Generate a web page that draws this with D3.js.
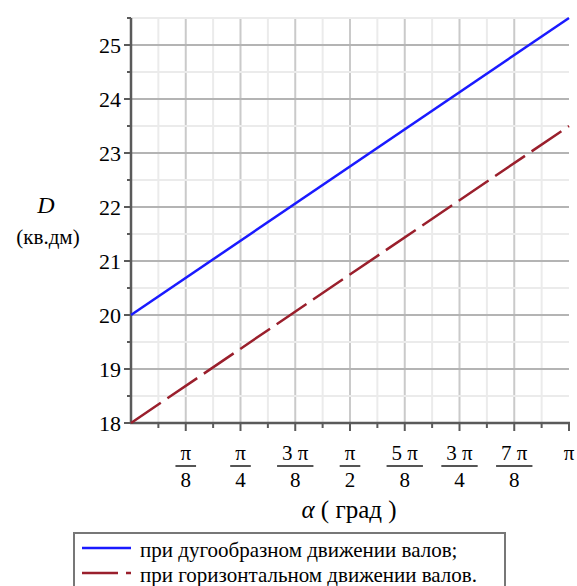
<!DOCTYPE html>
<html>
<head>
<meta charset="utf-8">
<script src="https://cdn.jsdelivr.net/npm/d3@7"></script>
</head>
<body style="margin:0">
<script>
// data
var PI = Math.PI
var arcLine = [[0, 20], [PI, 25.5]]          // при дугообразном движении валов
var horizLine = [[0, 18], [PI, 23.5]]        // при горизонтальном движении валов
var yTicks = [18, 19, 20, 21, 22, 23, 24, 25]
var xTickK = [1, 2, 3, 4, 5, 6, 7, 8]        // multiples of pi/8
var xTickNum = ["π", "π", "3 π", "π", "5 π", "3 π", "7 π", "π"]
var xTickDen = ["8", "4", "8", "2", "8", "4", "8", ""]
var legendLabels = ["при дугообразном движении валов;", "при горизонтальном движении валов."]

var width = 577, height = 586
var padding = { top: 18, left: 131 }
var fontName = "Times New Roman"

var xScale = d3.scaleLinear().domain([0, PI]).range([padding.left, 569])
var yScale = d3.scaleLinear().domain([18, 25.5]).range([423, padding.top])

var svg = d3.select("body").append("svg")
  .attr("width", width)
  .attr("height", height)

function txt(sel, size){
  return sel.append("text")
    .style("font", size + "px '" + fontName + "'")
}

// grid
var grid = svg.append("g")
var minorX = d3.range(1, 16).map(function(i){ return i * PI / 16 })
var minorY = d3.range(18.5, 25.6, 1)
grid.selectAll(".vminor").data(minorX).enter().append("line")
  .attr("x1", d => xScale(d)).attr("x2", d => xScale(d))
  .attr("y1", yScale(25.5)).attr("y2", yScale(18))
  .attr("stroke", d => (Math.round(d / PI * 16) % 2 == 0) ? "#cacaca" : "#ebebeb")
  .attr("stroke-width", 2)
grid.selectAll(".hminor").data(minorY).enter().append("line")
  .attr("x1", xScale(0)).attr("x2", xScale(PI))
  .attr("y1", d => yScale(d)).attr("y2", d => yScale(d))
  .attr("stroke", "#ebebeb").attr("stroke-width", 2)
grid.selectAll(".hmajor").data(yTicks.slice(1)).enter().append("line")
  .attr("x1", xScale(0)).attr("x2", xScale(PI))
  .attr("y1", d => yScale(d)).attr("y2", d => yScale(d))
  .attr("stroke", "#b4b4b4").attr("stroke-width", 2)

// axes
var axisColor = "#5a5a5a"
svg.append("line").attr("x1", xScale(0)).attr("x2", xScale(0))
  .attr("y1", yScale(25.5)).attr("y2", yScale(18) + 1)
  .attr("stroke", axisColor).attr("stroke-width", 2.5)
svg.append("line").attr("x1", xScale(0) - 1).attr("x2", xScale(PI) + 1)
  .attr("y1", yScale(18)).attr("y2", yScale(18))
  .attr("stroke", axisColor).attr("stroke-width", 2.5)

// y ticks
svg.selectAll(".ytick").data(d3.range(18, 25.6, 0.5)).enter().append("line")
  .attr("x1", d => xScale(0) - (d % 1 == 0 ? 7 : 4)).attr("x2", xScale(0))
  .attr("y1", d => yScale(d)).attr("y2", d => yScale(d))
  .attr("stroke", axisColor).attr("stroke-width", 2)
yTicks.forEach(function(v){
  txt(svg, 22).attr("x", 121).attr("y", yScale(v) + 8)
    .attr("text-anchor", "end").text(v)
})

// x ticks
svg.selectAll(".xtick").data(d3.range(1, 17)).enter().append("line")
  .attr("x1", d => xScale(d * PI / 16)).attr("x2", d => xScale(d * PI / 16))
  .attr("y1", yScale(18)).attr("y2", d => yScale(18) + (d % 2 == 0 ? 8 : 5))
  .attr("stroke", axisColor).attr("stroke-width", 2)

xTickK.forEach(function(k, i){
  var x = xScale(k * PI / 8)
  var num = txt(svg, 21).attr("x", x).attr("y", 460).attr("text-anchor", "middle").text(xTickNum[i])
  if (!xTickDen[i]) return
  txt(svg, 21).attr("x", x).attr("y", 487).attr("text-anchor", "middle").text(xTickDen[i])
  var w = num.node().getComputedTextLength() + 10
  svg.append("line")
    .attr("x1", x - w / 2).attr("x2", x + w / 2).attr("y1", 466).attr("y2", 466)
    .attr("stroke", "#555").attr("stroke-width", 2)
})

// axis titles
var xt = txt(svg, 25).attr("x", 349).attr("y", 518).attr("text-anchor", "middle")
xt.append("tspan").style("font-style", "italic").text("α")
xt.append("tspan").text(" ( град )")
txt(svg, 24).attr("x", 46).attr("y", 213)
  .attr("text-anchor", "middle").style("font-style", "italic")
  .text("D")
txt(svg, 21).attr("x", 48).attr("y", 244)
  .attr("text-anchor", "middle")
  .text("(кв.дм)")

// lines
var line = d3.line().x(d => xScale(d[0])).y(d => yScale(d[1]))
svg.append("path").datum(arcLine).attr("d", line)
  .attr("fill", "none").attr("stroke", "#1a1aff").attr("stroke-width", 2.5)
svg.append("path").datum(horizLine).attr("d", line)
  .attr("fill", "none").attr("stroke", "#9a1f2c").attr("stroke-width", 2.5)
  .attr("stroke-dasharray", "36,8")

// legend
svg.append("rect").attr("x", 74).attr("y", 533).attr("width", 431).attr("height", 70)
  .attr("fill", "#fff").attr("stroke", "#777").attr("stroke-width", 2)
var colors = ["#1a1aff", "#9a1f2c"], dashes = [null, "36,8"]
legendLabels.forEach(function(lab, i){
  var yy = 548 + i * 25
  svg.append("line").attr("x1", 82).attr("x2", 131).attr("y1", yy).attr("y2", yy)
    .attr("stroke", colors[i]).attr("stroke-width", 2.5)
    .attr("stroke-dasharray", dashes[i])
  txt(svg, 21).attr("x", 140).attr("y", yy + 9).text(lab)
})
</script>
</body>
</html>
